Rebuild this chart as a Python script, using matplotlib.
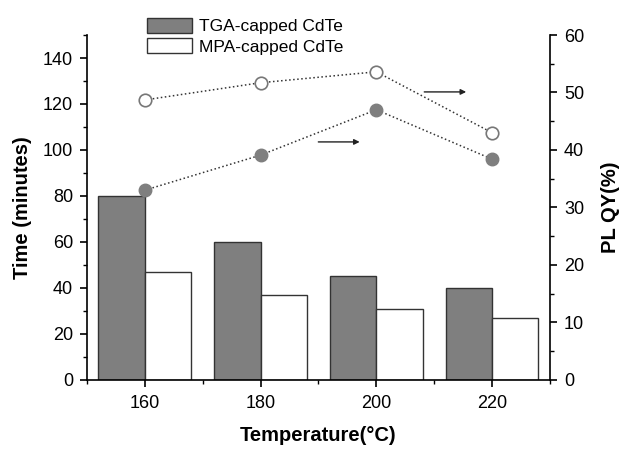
import numpy as np
import matplotlib.pyplot as plt
from matplotlib.ticker import MultipleLocator

plt.rcParams['font.family'] = ['Liberation Sans', 'DejaVu Sans']

temps = [160, 180, 200, 220]
time_tga = [80, 60, 45, 40]
time_mpa = [47, 37, 31, 27]
qy_tga = [33, 39.1, 47, 38.4]
qy_mpa = [48.7, 51.7, 53.6, 43]

fig = plt.figure(figsize=(6.25, 4.49), dpi=100)
ax = fig.add_axes([0.139, 0.154, 0.741, 0.768])
x = np.array(temps)
w = 8
b1 = ax.bar(x - w/2, time_tga, w, color='#7f7f7f', edgecolor='#333333', linewidth=1, label='TGA-capped CdTe')
b2 = ax.bar(x + w/2, time_mpa, w, color='white', edgecolor='#333333', linewidth=1, label='MPA-capped CdTe')
ax.set_xlim(150, 230)
ax.set_ylim(0, 150)
ax.set_xticks(temps)
ax.xaxis.set_minor_locator(MultipleLocator(10))
ax.yaxis.set_major_locator(MultipleLocator(20))
ax.yaxis.set_minor_locator(MultipleLocator(10))
ax.spines['top'].set_visible(False)
ax.spines['right'].set_visible(False)
for s in ['left', 'bottom']:
    ax.spines[s].set_linewidth(1.2)
ax.tick_params(which='major', direction='out', length=5, width=1.2, labelsize=13, pad=5)
ax.tick_params(axis='x', which='major', pad=6)
ax.tick_params(which='minor', direction='out', length=3, width=1)
ax.set_ylabel('Time (minutes)', fontsize=14.5, fontweight='bold', labelpad=8)
ax.set_xlabel('Temperature(°C)', fontsize=14.5, fontweight='bold', labelpad=10)

ax2 = ax.twinx()
ax2.set_ylim(0, 60)
ax2.yaxis.set_major_locator(MultipleLocator(10))
ax2.yaxis.set_minor_locator(MultipleLocator(5))
ax2.spines['top'].set_visible(False)
ax2.spines['left'].set_visible(False)
ax2.spines['bottom'].set_visible(False)
ax2.spines['right'].set_linewidth(1.2)
ax2.tick_params(which='major', direction='out', length=5, width=1.2, labelsize=13, pad=5)
ax2.tick_params(which='minor', direction='out', length=3, width=1)
ax2.set_ylabel('PL QY(%)', fontsize=14.5, fontweight='bold', labelpad=12)

ax2.plot(temps, qy_mpa, ':', color='#333333', lw=1.1, marker='o', ms=9,
         mfc='white', mec='#777777', mew=1.2)
ax2.plot(temps, qy_tga, ':', color='#333333', lw=1.1, marker='o', ms=9,
         mfc='#7f7f7f', mec='#7f7f7f')

ax2.annotate('', xy=(216, 50.1), xytext=(207.8, 50.1),
             arrowprops=dict(arrowstyle='-|>', color='#222222', lw=1, mutation_scale=8))
ax2.annotate('', xy=(197.6, 41.4), xytext=(189.5, 41.4),
             arrowprops=dict(arrowstyle='-|>', color='#222222', lw=1, mutation_scale=8))

fig.legend(handles=[b1, b2], loc='upper left', bbox_to_anchor=(0.221, 0.98),
           frameon=False, fontsize=12.5, handlelength=2.6, handleheight=1.0,
           handletextpad=0.4, labelspacing=0.2, borderpad=0)

fig.savefig('out.png', dpi=100)
